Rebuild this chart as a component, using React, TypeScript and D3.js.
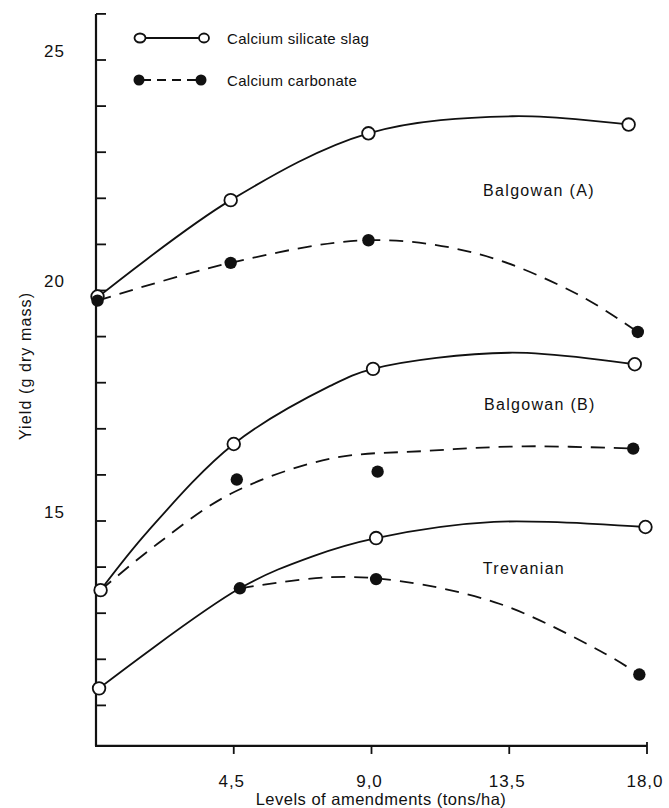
import React from "react";
import * as d3 from "d3";

type Pt = [number, number];

// Axis ticks
const xTickValues = [4.5, 9, 13.5, 18];
const xTickLabels = ["4,5", "9,0", "13,5", "18,0"];
const yTickValues = [11, 12, 13, 14, 15, 16, 17, 18, 19, 20, 21, 22, 23, 24, 25, 26];
const yLabelValues = [15, 20, 25];

// Measured yields (level in tons/ha, yield in g dry mass)
const balgowanASilicate: Pt[] = [[0.05, 19.87], [4.4, 21.96], [8.9, 23.41], [17.4, 23.6]];
const balgowanACarbonate: Pt[] = [[0.05, 19.78], [4.4, 20.6], [8.9, 21.09], [17.7, 19.1]];
const balgowanBSilicate: Pt[] = [[0.15, 13.5], [4.5, 16.67], [9.05, 18.3], [17.6, 18.4]];
const balgowanBCarbonate: Pt[] = [[4.6, 15.9], [9.2, 16.07], [17.55, 16.57]];
const trevanianSilicate: Pt[] = [[0.1, 11.37], [9.15, 14.63], [17.95, 14.87]];
const trevanianCarbonate: Pt[] = [[4.7, 13.54], [9.15, 13.74], [17.75, 11.67]];

// Fitted response curves
const balgowanASilicateCurve: Pt[] = [[0.05, 19.85], [4.4, 21.96], [8.9, 23.41], [13.6, 23.78], [17.4, 23.6]];
const balgowanACarbonateCurve: Pt[] = [[0.05, 19.78], [4.4, 20.6], [8.9, 21.09], [12.45, 20.8], [15.7, 19.93], [17.7, 19.1]];
const balgowanBSilicateCurve: Pt[] = [[0.15, 13.5], [1.7, 14.78], [4.5, 16.67], [7.65, 17.93], [9.05, 18.3], [13.5, 18.65], [17.6, 18.4]];
const balgowanBCarbonateCurve: Pt[] = [[0.15, 13.5], [2.0, 14.5], [4.4, 15.59], [7.65, 16.35], [10.8, 16.52], [14, 16.62], [17.55, 16.57]];
const trevanianSilicateCurve: Pt[] = [[0.1, 11.37], [4.7, 13.54], [7.1, 14.24], [9.15, 14.63], [13, 14.98], [17.95, 14.87]];
const trevanianCarbonateCurve: Pt[] = [[4.7, 13.54], [7.65, 13.78], [9.9, 13.7], [13.2, 13.2], [16.5, 12.17], [17.75, 11.67]];

// Site names and where they sit (data coordinates)
const siteNames = ["Balgowan (A)", "Balgowan (B)", "Trevanian"];
const siteNameAt: Pt[] = [[14.47, 22.18], [14.5, 17.52], [13.98, 13.98]];

const legendLabels = ["Calcium silicate slag", "Calcium carbonate"];

const FONT = "'Liberation Sans', Arial, Helvetica, sans-serif";
const INK = "#111";

export default function App() {
  const W = 669;
  const H = 808;
  const x = d3.scaleLinear().domain([0, 18]).range([96, 647]);
  const y = d3.scaleLinear().domain([15, 25]).range([521, 60]);
  const yBottom = 10.12;
  const yTop = 26;

  const line = d3
    .line<Pt>()
    .x((d) => x(d[0]))
    .y((d) => y(d[1]))
    .curve(d3.curveCatmullRom.alpha(0.5));

  const solidCurves = [balgowanASilicateCurve, balgowanBSilicateCurve, trevanianSilicateCurve];
  const dashedCurves = [balgowanACarbonateCurve, balgowanBCarbonateCurve, trevanianCarbonateCurve];
  const openPoints = [...balgowanASilicate, ...balgowanBSilicate, ...trevanianSilicate];
  const filledPoints = [...balgowanACarbonate, ...balgowanBCarbonate, ...trevanianCarbonate];

  const axisY = y(yBottom);
  const dash = "14 9";

  return (
    <svg
      width={W}
      height={H}
      viewBox={`0 0 ${W} ${H}`}
      style={{ position: "absolute", left: 0, top: 0, background: "#fff" }}
    >
      <rect x={0} y={0} width={W} height={H} fill="#fff" />

      {/* y axis */}
      <line x1={x(0)} x2={x(0)} y1={y(yTop)} y2={axisY} stroke={INK} strokeWidth={2.2} />
      {yTickValues.map((v) => (
        <line key={`yt${v}`} x1={x(0)} x2={x(0) + 10} y1={y(v)} y2={y(v)} stroke={INK} strokeWidth={1.8} />
      ))}
      {yLabelValues.map((v) => (
        <text
          key={`yl${v}`}
          x={65}
          y={y(v) - 9}
          textAnchor="end"
          dominantBaseline="central"
          fontFamily={FONT}
          fontSize={17}
          letterSpacing={1}
          fill={INK}
        >
          {v}
        </text>
      ))}
      <text
        transform={`translate(25, 366) rotate(-90)`}
        textAnchor="middle"
        dominantBaseline="central"
        fontFamily={FONT}
        fontSize={16}
        letterSpacing={1.1}
        fill={INK}
      >
        Yield (g dry mass)
      </text>

      {/* x axis */}
      <line x1={x(0) - 1} x2={x(18)} y1={axisY} y2={axisY} stroke={INK} strokeWidth={2.2} />
      {xTickValues.map((v, i) => (
        <g key={`xt${v}`}>
          <line x1={x(v)} x2={x(v)} y1={axisY - (i === xTickValues.length - 1 ? 4 : 0)} y2={axisY + 8} stroke={INK} strokeWidth={1.8} />
          <text
            x={x(v) - 2}
            y={781}
            textAnchor="middle"
            dominantBaseline="central"
            fontFamily={FONT}
            fontSize={17}
            letterSpacing={1}
            fill={INK}
          >
            {xTickLabels[i]}
          </text>
        </g>
      ))}
      <text
        x={381}
        y={799}
        textAnchor="middle"
        dominantBaseline="central"
        fontFamily={FONT}
        fontSize={16.5}
        letterSpacing={0.5}
        fill={INK}
      >
        Levels of amendments (tons/ha)
      </text>

      {/* fitted curves */}
      {solidCurves.map((c, i) => (
        <path key={`sc${i}`} d={line(c) ?? ""} fill="none" stroke={INK} strokeWidth={1.8} />
      ))}
      {dashedCurves.map((c, i) => (
        <path key={`dc${i}`} d={line(c) ?? ""} fill="none" stroke={INK} strokeWidth={1.8} strokeDasharray={dash} />
      ))}

      {/* measured points */}
      {openPoints.map((p, i) => (
        <circle key={`op${i}`} cx={x(p[0])} cy={y(p[1])} r={6.3} fill="#fff" stroke={INK} strokeWidth={1.8} />
      ))}
      {filledPoints.map((p, i) => (
        <circle key={`fp${i}`} cx={x(p[0])} cy={y(p[1])} r={6.2} fill={INK} />
      ))}

      {/* site names */}
      {siteNames.map((s, i) => (
        <text
          key={s}
          x={x(siteNameAt[i][0])}
          y={y(siteNameAt[i][1])}
          textAnchor="middle"
          dominantBaseline="central"
          fontFamily={FONT}
          fontSize={16}
          letterSpacing={1.3}
          fill={INK}
        >
          {s}
        </text>
      ))}

      {/* legend */}
      <g>
        <line x1={145} x2={199} y1={38} y2={38} stroke={INK} strokeWidth={1.8} />
        <ellipse cx={140} cy={38} rx={5.5} ry={4.5} fill="#fff" stroke={INK} strokeWidth={1.8} />
        <ellipse cx={204} cy={38} rx={5} ry={4.5} fill="#fff" stroke={INK} strokeWidth={1.8} />
        <text x={227} y={38} dominantBaseline="central" fontFamily={FONT} fontSize={15} letterSpacing={0.3} fill={INK}>
          {legendLabels[0]}
        </text>
        <line x1={139} x2={201} y1={80} y2={80} stroke={INK} strokeWidth={1.8} strokeDasharray="9 6" strokeDashoffset={-3} />
        <circle cx={139} cy={80} r={5.5} fill={INK} />
        <circle cx={201} cy={80} r={5.5} fill={INK} />
        <text x={227} y={80} dominantBaseline="central" fontFamily={FONT} fontSize={15} letterSpacing={0.3} fill={INK}>
          {legendLabels[1]}
        </text>
      </g>
    </svg>
  );
}
